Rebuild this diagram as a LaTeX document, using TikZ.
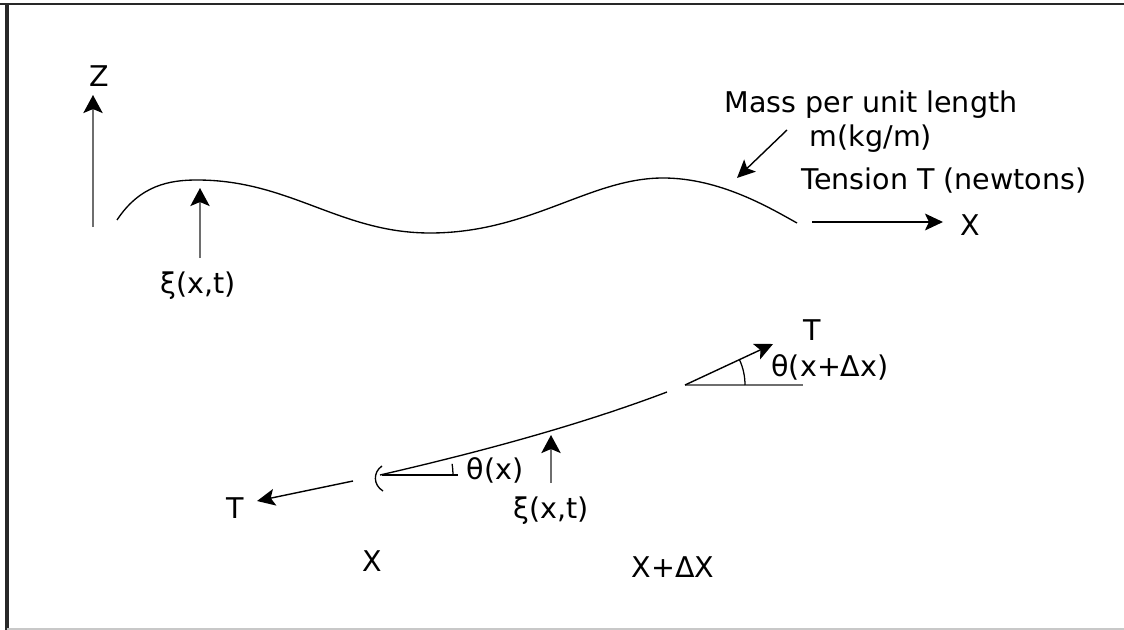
\documentclass[tikz,border=0pt]{standalone}
\usepackage{fontspec}
\setmainfont{DejaVu Sans}
\usetikzlibrary{arrows.meta}
\definecolor{arrowgray}{RGB}{110,110,110}
\definecolor{framedark}{RGB}{40,40,40}
\definecolor{framelight}{RGB}{200,200,200}
\tikzset{
    % string and helper lines
    stringline/.style={line width=0.95pt, black},
    refline/.style={line width=1.4pt, arrowgray},
    anglearc/.style={line width=0.9pt, black},
    % arrows: gray shaft for displacement/axis, black for forces
    grayarrow/.style={line width=1.7pt, arrowgray,
        -{Stealth[length=0.45cm,width=0.48cm,inset=0.1cm,color=black]}},
    blackarrow/.style={line width=1pt, black,
        -{Stealth[length=0.45cm,width=0.42cm,inset=0.1cm]}},
}
\tikzset{
    lbl/.style={inner sep=0pt, anchor=base, text=black,
        font=\fontsize{20.3pt}{24.2pt}\selectfont},
}
\begin{document}
\begin{tikzpicture}[x=0.025cm, y=-0.025cm]
  \useasboundingbox (0,0) rectangle (1124,630);
  % frame
  \draw[framedark, line width=2pt] (0,4) -- (1124,4);
  \draw[framedark, line width=2.4pt] (7,4) -- (7,630);
  \draw[framelight, line width=1.2pt] (7,629) -- (1124,629);

  % top: whole string
  \draw[stringline] (117,220) .. controls (140,185) and (170,180) .. (197,180)
      .. controls (290,180) and (340,233) .. (430,233)
      .. controls (530,233) and (590,178) .. (663,178)
      .. controls (720,178) and (770,208) .. (797,223);
  \node[lbl] (zlbl) at (99,87) {Z};
  \coordinate (zfoot) at (93,227);
  \coordinate (zhead) at (93,95);
  \draw[grayarrow] (zfoot) -- (zhead);
  \node[lbl] (xitop) at (198,293) {ξ(x,t)};
  \coordinate (xitopfoot) at (200,258);
  \coordinate (xitophead) at (200,188);
  \draw[grayarrow] (xitopfoot) -- (xitophead);
  \node[lbl, anchor=north, align=center] (mass) at (871,90.5) {Mass per unit length\\m(kg/m)};
  \coordinate (massfoot) at (787,130);
  \coordinate (masshead) at (737,178);
  \draw[blackarrow] (massfoot) -- (masshead);
  \node[lbl] (tension) at (944,189.5) {Tension T (newtons)};
  \node[lbl] (xtop) at (970,235) {X};
  \coordinate (tenfoot) at (812,222);
  \coordinate (tenhead) at (943,222);
  \draw[blackarrow] (tenfoot) -- (tenhead);

  % bottom: element between x and x+dx
  \coordinate (left) at (382,475);
  \coordinate (right) at (685,385);
  \draw[stringline] (380,475) .. controls (480,452) and (580,425) .. (667,392);
  \draw[stringline] (382,466) .. controls (373,472) and (373,485) .. (383,491);
  \draw[stringline] (left) -- (458,475);
  \draw[anglearc] (453,475) .. controls (453,471.3) and (452.7,467.6) .. (452.1,463.9);
  \node[lbl] (thetax) at (495,479) {θ(x)};
  \coordinate (xibotfoot) at (551,483);
  \coordinate (xibothead) at (551,435);
  \draw[grayarrow] (xibotfoot) -- (xibothead);
  \node[lbl] (xibot) at (551,518) {ξ(x,t)};
  \coordinate (tleftfoot) at (353,481);
  \coordinate (tlefthead) at (257,501);
  \draw[blackarrow] (tleftfoot) -- (tlefthead);
  \node[lbl] (tleft) at (235,518) {T};
  \node[lbl] (xbot) at (372,571) {X};
  \node[lbl] (xdx) at (673,577) {X+ΔX};

  \coordinate (trighthead) at (773,344);
  \draw[refline] (right) -- (803,385);
  \draw[blackarrow] (right) -- (trighthead);
  \draw[anglearc] (745,385) .. controls (745,376.2) and (743.1,367.5) .. (739.4,359.6);
  \node[lbl] (thetaxdx) at (830,376) {θ(x+Δx)};
  \node[lbl] (tright) at (812,340) {T};
\end{tikzpicture}
\end{document}
